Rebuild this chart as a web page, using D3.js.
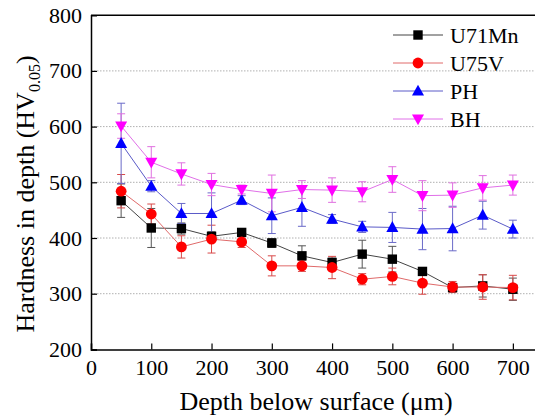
<!DOCTYPE html>
<html><head><meta charset="utf-8">
<script src="https://cdn.jsdelivr.net/npm/d3@7"></script>
<style>body{margin:0;background:#fff}svg{display:block}</style>
</head><body><svg id="c" width="535" height="417"></svg>
<script>
const depth = [50,100,150,200,250,300,350,400,450,500,550,600,650,700];
const u71mn = [467,418,417,403,410,391,368,356,371,362,340,311,314,308];
const u71mnErr = [30,35,10,8,6,8,18,8,25,23,5,5,20,20];
const u75v = [484,443,384,398,393,350,350,347,326,331,319,312,312,311];
const u75vErr = [30,18,20,25,10,18,10,20,10,15,20,10,22,22];
const ph = [570,493,444,444,468,440,455,434,420,419,416,417,441,416];
const phErr = [72,10,18,37,8,32,34,8,10,27,37,40,25,16];
const bh = [601,536,515,496,487,480,487,486,483,505,476,477,490,495];
const bhErr = [22,28,20,20,8,33,16,22,18,23,27,22,22,18];
const xTicks = [0,100,200,300,400,500,600,700];
const yTicks = [200,300,400,500,600,700,800];

const FONT = "'Liberation Serif', 'Times New Roman', 'DejaVu Serif', serif";
const series = [
  {name:"U71Mn", v:u71mn, e:u71mnErr, line:"#444", err:"#555", fill:"#000", shape:"square"},
  {name:"U75V", v:u75v, e:u75vErr, line:"#e06a6a", err:"#d84a4a", fill:"#ff0000", shape:"circle"},
  {name:"PH", v:ph, e:phErr, line:"#5a5ac8", err:"#6a6ac8", fill:"#0000ff", shape:"up"},
  {name:"BH", v:bh, e:bhErr, line:"#e070e8", err:"#e070e0", fill:"#ff00ff", shape:"down"}
];

const svg = d3.select("#c");
const L=91, R=543, T=15.2, B=349.4;
const x = d3.scaleLinear().domain([0,750]).range([L,R]);
const y = d3.scaleLinear().domain([200,800]).range([B,T]);

svg.append("g").selectAll("line").data(yTicks.filter(t=>t>200&&t<800)).join("line")
  .attr("x1",L).attr("x2",R).attr("y1",d=>y(d)).attr("y2",d=>y(d))
  .attr("stroke","#b0b0b0").attr("stroke-width",1).attr("stroke-dasharray","1.5,1.5");

const xa = svg.append("g").attr("transform",`translate(0,${B})`)
  .call(d3.axisBottom(x).tickValues(xTicks).tickSize(-6).tickPadding(10).tickFormat(d3.format("d")));
const ya = svg.append("g").attr("transform",`translate(${L},0)`)
  .call(d3.axisLeft(y).tickValues(yTicks).tickSize(-6).tickPadding(9).tickFormat(d3.format("d")));
[xa,ya].forEach(g=>{g.attr("font-family",null).attr("font-size",null);
  g.select(".domain").attr("stroke","#000").attr("stroke-width",1.5);
  g.selectAll(".tick line").attr("stroke","#000").attr("stroke-width",1.2);
  g.selectAll(".tick text").style("font-family",FONT).style("font-size","22px").attr("fill","#000");});
ya.selectAll(".tick line").filter(d=>d===800).remove();
svg.append("line").attr("x1",L).attr("x2",R).attr("y1",T).attr("y2",T).attr("stroke","#000").attr("stroke-width",1.5);
svg.append("line").attr("x1",R).attr("x2",R).attr("y1",T).attr("y2",B).attr("stroke","#000").attr("stroke-width",1.5);

function marker(g, shape, cx, cy, fill){
  if(shape==="square") g.append("rect").attr("x",cx-4.7).attr("y",cy-4.7).attr("width",9.4).attr("height",9.4).attr("fill",fill);
  else if(shape==="circle") g.append("circle").attr("cx",cx).attr("cy",cy).attr("r",5.4).attr("fill",fill);
  else if(shape==="up") g.append("path").attr("d",`M${cx},${cy-6.3}L${cx+6},${cy+4.6}L${cx-6},${cy+4.6}Z`).attr("fill",fill);
  else g.append("path").attr("d",`M${cx},${cy+6.3}L${cx+6},${cy-4.6}L${cx-6},${cy-4.6}Z`).attr("fill",fill);
}

series.forEach(s=>{
  const g = svg.append("g");
  depth.forEach((d,i)=>{
    const cx=x(d), y1=y(s.v[i]+s.e[i]), y2=y(s.v[i]-s.e[i]);
    g.append("line").attr("x1",cx).attr("x2",cx).attr("y1",y1).attr("y2",y2).attr("stroke",s.err).attr("stroke-width",1);
    [y1,y2].forEach(yy=>g.append("line").attr("x1",cx-4).attr("x2",cx+4).attr("y1",yy).attr("y2",yy).attr("stroke",s.err).attr("stroke-width",1));
  });
});
series.forEach(s=>{
  const g = svg.append("g");
  g.append("path").datum(depth.map((d,i)=>[d,s.v[i]]))
    .attr("d",d3.line().x(d=>x(d[0])).y(d=>y(d[1])))
    .attr("fill","none").attr("stroke",s.line).attr("stroke-width",1);
  depth.forEach((d,i)=>marker(g,s.shape,x(d),y(s.v[i]),s.fill));
});

const ly=[35,63,91,119];
series.forEach((s,i)=>{
  const g=svg.append("g");
  g.append("line").attr("x1",393).attr("x2",443).attr("y1",ly[i]).attr("y2",ly[i]).attr("stroke",s.line).attr("stroke-width",1);
  marker(g,s.shape,418,ly[i],s.fill);
  g.append("text").attr("x",450).attr("y",ly[i]+7.5).style("font-family",FONT).style("font-size","22px").text(s.name);
});

svg.append("text").attr("x",316).attr("y",410).attr("text-anchor","middle").style("font-family",FONT).style("font-size","26px")
  .text("Depth below surface (\u03bcm)");
const yt = svg.append("text").attr("transform","translate(34,194) rotate(-90)").attr("text-anchor","middle").style("font-family",FONT).style("font-size","26px");
yt.append("tspan").text("Hardness in depth (HV");
yt.append("tspan").style("font-size","16px").attr("dy",6).text("0.05");
yt.append("tspan").attr("dy",-6).text(")");
</script></body></html>
